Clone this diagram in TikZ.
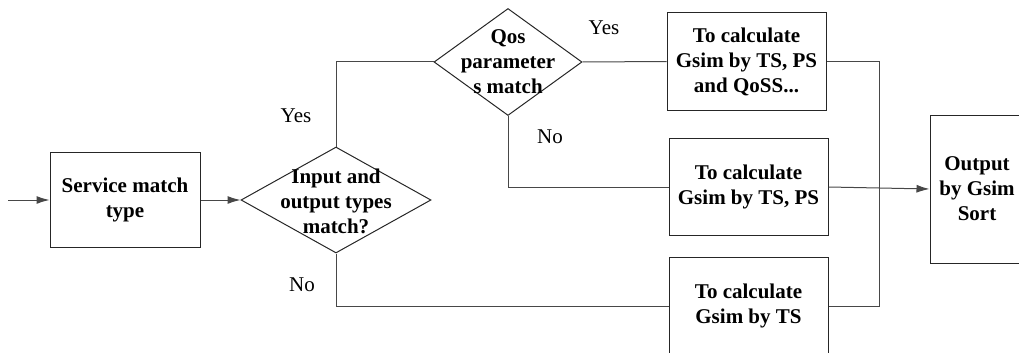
\documentclass[tikz,border=0pt]{standalone}
\usepackage{fontspec}
\setmainfont{Liberation Serif}
\usetikzlibrary{shapes.geometric,arrows.meta}

\begin{document}
\begin{tikzpicture}[x=1pt, y=-1pt, line width=1pt,
    box/.style={rectangle, draw=black!85, align=center, inner sep=0pt, font=\bfseries\fontsize{21}{25}\selectfont},
    dia/.style={diamond, draw=black!85, inner sep=0pt},
    txt/.style={align=center, font=\bfseries\fontsize{21}{25}\selectfont},
    lbl/.style={font=\fontsize{21}{25}\selectfont},
    link/.style={draw=black!72},
    arr/.style={link, -{Latex[length=13pt,width=8pt]}}]
    \useasboundingbox (0,0) rectangle (1019,353);
    \clip (0,0) rectangle (1019,353);
    \coordinate (start) at (8,200);
    \node[box, minimum width=150pt, minimum height=95pt] (smt) at (125,200) {Service match\\type};
    \node[dia, minimum width=190pt, minimum height=106pt] (iom) at (336,200) {};
    \node[txt] at (336,201) {Input and\\output types\\match?};
    \node[dia, minimum width=148pt, minimum height=107pt] (qos) at (508,62) {};
    \node[txt] at (508,62) {Qos\\parameter\\s match};
    \node[box, minimum width=159pt, minimum height=97pt] (tpq) at (746.5,61.5) {To calculate\\Gsim by TS, PS\\and QoSS...};
    \node[box, minimum width=159pt, minimum height=97pt] (tp) at (748.5,187) {To calculate\\Gsim by TS, PS};
    \node[box, minimum width=159pt, minimum height=97pt] (ts) at (748.5,306) {To calculate\\Gsim by TS};
    \node[box, minimum width=94pt, minimum height=148pt] (out) at (977,189) {Output\\by Gsim\\Sort};
    \coordinate (bus) at (879,186);
    \node[lbl] at (296,116) {Yes};
    \node[lbl] at (604,28) {Yes};
    \node[lbl] at (550,137) {No};
    \node[lbl] at (302,285) {No};
    \draw[arr] (start) -- (smt.west);
    \draw[arr] (smt.east) -- (iom.west);
    \draw[link] (iom.north) |- (qos.west);
    \draw[link] (qos.east) -- (tpq.west);
    \draw[link] (qos.south) |- (tp.west);
    \draw[link] (iom.south) |- (ts.west);
    \draw[link] (tpq.east) -- (tpq.east -| bus) |- (ts.east);
    \draw[arr] (tp.east) -- (out.west);
\end{tikzpicture}
\end{document}
